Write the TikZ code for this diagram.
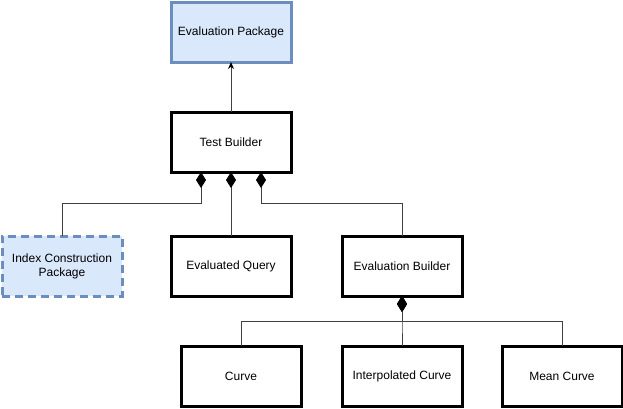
\documentclass[tikz,border=0pt]{standalone}
\usepackage{fontspec}
\setmainfont{Liberation Sans}
\usetikzlibrary{arrows.meta, positioning, calc}
\definecolor{pkgfill}{RGB}{218, 232, 252}
\definecolor{pkgline}{RGB}{108, 142, 191}

\begin{document}
\begin{tikzpicture}[x=1pt, y=-1pt,
		box/.style={draw=black, line width=3pt, fill=white, minimum width=120pt, minimum height=60pt, outer sep=0pt, align=center, font=\fontsize{12}{14}\selectfont},
		pkg/.style={box, draw=pkgline, fill=pkgfill},
		comp/.style={draw=black!75, line width=1pt, {Diamond[length=16pt, width=10pt, black]}-},
		uses/.style={draw=black!75, line width=1pt, -{Stealth[length=7pt, width=6pt, black]}}]
	\useasboundingbox (0,0) rectangle (623,408);

	% Packages
	\node[pkg] (evalpkg) at (231,32) {Evaluation Package};
	\node[pkg, dash pattern=on 8pt off 5pt] (indexpkg) at (62,266) {Index Construction\\Package};

	% Builders and parts
	\node[box] (testbuilder) at (231,142) {Test Builder};
	\node[box] (evalquery) at (231,266) {Evaluated Query};
	\node[box] (evalbuilder) at (402,266) {Evaluation Builder};
	\node[box] (curve) at (241,376) {Curve};
	\node[box] (interpcurve) at (402,376) {Interpolated Curve};
	\node[box] (meancurve) at (562,376) {Mean Curve};

	% Test Builder up to the package
	\draw[uses] (testbuilder) -- (evalpkg);

	% Test Builder composition
	\draw[comp] ($(testbuilder.south)+(-30,0)$) -- ++(0,31) -| (indexpkg.north);
	\draw[comp] (testbuilder.south) -- (evalquery.north);
	\draw[comp] ($(testbuilder.south)+(30,0)$) -- ++(0,31) -| (evalbuilder.north);

	% Evaluation Builder composition
	\foreach \part in {curve, interpcurve, meancurve}
		\draw[comp] (evalbuilder.south) -- ++(0,25) -| (\part.north);
\end{tikzpicture}
\end{document}
